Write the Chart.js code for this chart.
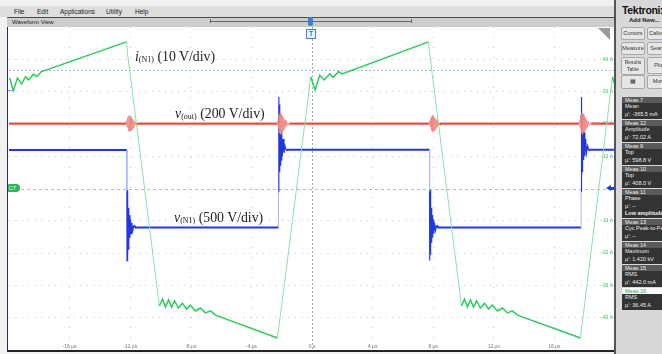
<!DOCTYPE html>
<html>
<head>
<meta charset="utf-8">
<script src="https://cdn.jsdelivr.net/npm/chart.js@4.4.1/dist/chart.umd.min.js"></script>
<style>
  body { margin:0; width:662px; height:354px; overflow:hidden; background:#f2f2f2; font-family:'Liberation Sans', Arial, sans-serif; position:relative; }
  .abs { position:absolute; }
  .menu { left:0; top:6px; width:615px; height:11px; background:#dedede; font-size:6.5px; color:#222; }
  .menu span { position:absolute; top:2px; }
  .wvbar { left:7px; top:17px; width:607px; height:9px; background:#cdcdcd; border-top:1px solid #4a4a4a; font-size:6px; color:#222; }
  .ruler { left:210px; top:19px; width:200px; height:4px; border-left:1px solid #666; border-right:1px solid #666; }
  .ruler i { position:absolute; left:0; right:0; top:2px; height:1px; background:#666; }
  .plot { left:7px; top:27px; width:607px; height:323px; background:#fff; border-left:1px solid #2a2a60; border-bottom:2px solid #222; }
  #scope { position:absolute; left:1px; top:0; }
  .panel { left:614px; top:0; width:48px; height:354px; background:#d8d8d8; border-left:2px solid #555; overflow:hidden; }
  .logo { left:6px; top:4px; font-size:10.5px; font-weight:bold; color:#111; letter-spacing:-0.3px; white-space:nowrap; }
  .addnew { left:13px; top:17px; font-size:6px; font-weight:bold; color:#222; white-space:nowrap; }
  .btn { background:#e6e6e6; border:1px solid #a8a8a8; border-radius:2px; font-size:5.5px; color:#333; text-align:center; line-height:10px; white-space:nowrap; overflow:hidden; }
  .meas { left:6px; width:45px; background:#333; color:#eee; font-size:5.5px; line-height:7.5px; white-space:nowrap; }
  .meas .h { background:#5a5a5a; color:#eee; padding-left:3px; height:6px; line-height:6px; }
  .meas .b { padding-left:3px; }
  .ann { font-family:'Liberation Serif', 'DejaVu Serif', serif; font-size:13.8px; color:#222; white-space:nowrap; }
  .ann sub { font-size:8px; vertical-align:-1px; }
</style>
</head>
<body>
<div class="abs menu">
  <span style="left:14px">File</span><span style="left:37px">Edit</span><span style="left:60px">Applications</span><span style="left:106px">Utility</span><span style="left:135px">Help</span>
</div>
<div class="abs wvbar"><span style="position:absolute;left:5px;top:1px">Waveform View</span></div>
<div class="abs ruler"><i></i></div>
<div class="abs" style="left:308px;top:17px;width:5px;height:9px;background:#3a7fd8;border-radius:2px;"></div>

<div class="abs plot">
  <canvas id="scope" width="606" height="323"></canvas>
</div>

<div class="abs" style="left:306px;top:29px;width:8px;height:8px;border:1px solid #3a7fd8;background:#eef5ff;color:#2a6fd0;font-size:6.5px;font-weight:bold;text-align:center;line-height:8px;">T</div>
<div class="abs" style="left:598px;top:28px;width:0;height:0;border-left:12px solid transparent;border-top:12px solid #9a9a9a;"></div>
<div class="abs" style="left:8px;top:184px;width:11px;height:8px;background:#2fb55a;border-radius:1px 4px 4px 1px;color:#fff;font-size:5.5px;line-height:8px;padding-left:1px;">C7</div>
<div class="abs" style="left:8px;top:90px;width:7px;height:1px;background:#7fa8e8;"></div>
<div class="abs" style="left:606px;top:185px;width:0;height:0;border-top:3.5px solid transparent;border-bottom:3.5px solid transparent;border-right:5px solid #1a3ee0;"></div>
<div class="abs" style="left:610px;top:187px;width:4px;height:3px;background:#1a3ee0;"></div>

<div class="abs ann" style="left:135px;top:49px;"><i>i</i><sub>(N1)</sub> (10 V/div)</div>
<div class="abs ann" style="left:175px;top:106px;"><i>v</i><sub>(out)</sub> (200 V/div)</div>
<div class="abs ann" style="left:174px;top:210px;"><i>v</i><sub>(N1)</sub> (500 V/div)</div>

<div class="abs panel">
  <div class="abs logo">Tektronix</div>
  <div class="abs addnew">Add New...</div>
  <div class="abs btn" style="left:5px;top:27px;width:22px;height:11px;">Cursors</div>
  <div class="abs btn" style="left:31px;top:27px;width:22px;height:11px;">Callouts</div>
  <div class="abs btn" style="left:5px;top:42px;width:22px;height:11px;">Measure</div>
  <div class="abs btn" style="left:31px;top:42px;width:22px;height:11px;">Search</div>
  <div class="abs btn" style="left:5px;top:57px;width:22px;height:15px;line-height:6.5px;padding-top:1px;font-size:5px;">Results<br>Table</div>
  <div class="abs btn" style="left:31px;top:57px;width:22px;height:15px;line-height:15px;">Plot</div>
  <div class="abs btn" style="left:5px;top:75px;width:22px;height:12px;">&#9638;</div>
  <div class="abs btn" style="left:31px;top:75px;width:22px;height:12px;">More</div>

  <div class="abs meas" style="top:97px;height:22px;"><div class="h">Meas 7</div><div class="b">Mean<br>&micro;': -365.5 mA</div></div>
  <div class="abs meas" style="top:120px;height:22px;"><div class="h">Meas 12</div><div class="b">Amplitude<br>&micro;': 72.02 A</div></div>
  <div class="abs meas" style="top:143px;height:22px;"><div class="h">Meas 9</div><div class="b">Top<br>&micro;': 598.8 V</div></div>
  <div class="abs meas" style="top:166px;height:22px;"><div class="h">Meas 10</div><div class="b">Top<br>&micro;': 408.0 V</div></div>
  <div class="abs meas" style="top:189px;height:29px;"><div class="h">Meas 11</div><div class="b">Phase<br>&micro;': --<br><b>Low amplitude</b></div></div>
  <div class="abs meas" style="top:219px;height:22px;"><div class="h">Meas 13</div><div class="b">Cyc Peak-to-Peak<br>&micro;': --</div></div>
  <div class="abs meas" style="top:242px;height:22px;"><div class="h">Meas 14</div><div class="b">Maximum<br>&micro;': 1.420 kV</div></div>
  <div class="abs meas" style="top:265px;height:22px;"><div class="h">Meas 15</div><div class="b">RMS<br>&micro;': 442.0 mA</div></div>
  <div class="abs meas" style="top:288px;height:22px;"><div class="h" style="background:#fafafa;color:#3a9a5a;">Meas 16</div><div class="b">RMS<br>&micro;': 36.45 A</div></div>
</div>

<script>
// screen units: 10 A per vertical division, 4 us per horizontal division
const timeTicks = [-16, -12, -8, -4, 0, 4, 8, 12, 16];
const timeLabels = ['-16 \u00b5s', '-12 \u00b5s', '-8 \u00b5s', '-4 \u00b5s', '0 s', '4 \u00b5s', '8 \u00b5s', '12 \u00b5s', '16 \u00b5s'];
const ampTicks = [40, 30, 20, 10, -10, -20, -30, -40];
const ampLabels = ['40 A', '30 A', '20 A', '10 A', '-10 A', '-20 A', '-30 A', '-40 A'];
const triggerLevel = 36.7;

// i(N1) trace
const iTime = [-19.95, -19.72, -19.44, -19.17, -18.91, -18.71, -18.38, -18.18, -17.85, -12.24, -12.18,
  -10.07, -9.87, -9.67, -9.47, -9.27, -9.08, -8.81, -8.55, -8.28, -8.02, -7.69, -7.36, -7.03, -6.70, -6.37, -2.28,
  -0.08, 0.21, 0.51, 0.81, 1.17, 1.40, 1.77, 1.99, 7.69, 7.76,
  9.87, 10.07, 10.26, 10.46, 10.66, 10.86, 11.12, 11.39, 11.65, 11.91, 12.24, 12.57, 12.90, 13.23, 13.56, 17.72,
  19.83, 19.97];
const iAmp = [34.2, 30.3, 34.2, 32.4, 34.6, 33.6, 35.4, 34.6, 36.2, 45.4, 41.9,
  -36.4, -34.2, -36.7, -34.5, -36.7, -34.8, -37.0, -35.5, -37.3, -36.1, -37.9, -37.0, -38.5, -37.9, -39.2, -46.3,
  34.6, 30.5, 35.1, 33.6, 35.5, 34.4, 36.2, 35.5, 45.4, 41.9,
  -36.4, -34.2, -36.7, -34.5, -36.7, -34.8, -37.0, -35.5, -37.3, -36.1, -37.9, -37.0, -38.5, -37.9, -39.2, -46.3,
  34.5, 32.4];

// v(out) trace
const outTime = [-20.0,
  -12.28, -12.24, -12.20, -12.16, -12.12, -12.08, -12.04, -12.00, -11.96, -11.92, -11.88, -11.84, -11.80, -11.76, -11.72, -11.66, -11.60, -11.52,
  -2.30, -2.26, -2.22, -2.18, -2.14, -2.10, -2.06, -2.02, -1.98, -1.94, -1.90, -1.86, -1.82, -1.78, -1.74, -1.68, -1.60, -1.50,
  7.74, 7.78, 7.82, 7.86, 7.90, 7.94, 7.98, 8.02, 8.06, 8.10, 8.14, 8.18, 8.22, 8.26, 8.30, 8.36, 8.42, 8.50,
  17.62, 17.66, 17.70, 17.74, 17.78, 17.82, 17.86, 17.90, 17.94, 17.98, 18.02, 18.06, 18.10, 18.14, 18.18, 18.24, 18.32, 18.42,
  20.0];
const outAmp = [20.1,
  20.1, 21.0, 19.0, 22.0, 18.0, 22.6, 17.6, 22.4, 17.8, 22.0, 18.3, 21.5, 18.8, 21.0, 19.3, 20.6, 19.7, 20.1,
  20.1, 21.0, 18.8, 22.8, 17.2, 23.4, 16.8, 23.0, 17.4, 22.4, 18.0, 21.8, 18.6, 21.2, 19.0, 20.8, 19.5, 20.1,
  20.1, 21.0, 19.0, 22.0, 18.0, 22.6, 17.6, 22.4, 17.8, 22.0, 18.3, 21.5, 18.8, 21.0, 19.3, 20.6, 19.7, 20.1,
  20.1, 21.0, 18.8, 22.8, 17.2, 23.4, 16.8, 23.0, 17.4, 22.4, 18.0, 21.8, 18.6, 21.2, 19.0, 20.8, 19.5, 20.1,
  20.1];

// v(N1) trace
const nTime = [-20.0, -12.22, -12.22, -12.21, -12.19, -12.17, -12.15, -12.13, -12.11, -12.08, -12.05, -12.02, -11.98, -11.94, -11.89, -11.83, -11.75, -11.65,
  -2.21, -2.21, -2.20, -2.18, -2.16, -2.14, -2.12, -2.10, -2.07, -2.04, -2.00, -1.96, -1.91, -1.85, -1.78, -1.70, -1.60,
  7.76, 7.76, 7.77, 7.79, 7.81, 7.83, 7.85, 7.87, 7.90, 7.93, 7.96, 8.00, 8.04, 8.09, 8.15, 8.23, 8.33,
  17.76, 17.76, 17.77, 17.79, 17.81, 17.83, 17.85, 17.87, 17.90, 17.93, 17.97, 18.01, 18.06, 18.12, 18.19, 18.27, 18.37, 20.0];
const nAmp = [11.9, 11.9, -1.0, -22.3, -0.5, -20.5, -3.5, -18.8, -6.0, -16.8, -8.2, -15.2, -9.6, -14.0, -10.6, -13.0, -11.4, -12.1,
  -12.1, -1.0, 28.3, 3.0, 26.0, 5.2, 23.2, 7.2, 20.2, 8.8, 17.4, 10.0, 15.3, 11.0, 13.2, 11.8, 12.0,
  12.0, -1.0, -22.3, -0.5, -20.5, -3.5, -18.8, -6.0, -16.8, -8.2, -15.2, -9.6, -14.0, -10.6, -13.0, -11.4, -12.1,
  -12.1, -1.0, 28.3, 3.0, 26.0, 5.2, 23.2, 7.2, 20.2, 8.8, 17.4, 10.0, 15.3, 11.0, 13.2, 11.8, 12.0, 12.0];

const pts = (xs, ys) => xs.map((x, i) => ({x: x, y: ys[i]}));
const slope = c => Math.abs(c.p1.parsed.y - c.p0.parsed.y) / Math.max(1e-6, Math.abs(c.p1.parsed.x - c.p0.parsed.x));

// grid extras + tick labels drawn inside the screen like on the scope
const scopeMarks = {
  id: 'scopeMarks',
  beforeDatasetsDraw(chart) {
    const {ctx, chartArea: a, scales: {x, y}} = chart;
    ctx.save();
    ctx.lineWidth = 1;
    ctx.setLineDash([3, 3]);
    ctx.strokeStyle = '#b8b8b8';
    ctx.beginPath();
    ctx.moveTo(a.left, Math.round(y.getPixelForValue(0)) + 0.5);
    ctx.lineTo(a.right, Math.round(y.getPixelForValue(0)) + 0.5);
    ctx.stroke();
    ctx.setLineDash([2, 2]);
    ctx.strokeStyle = '#a8a8a8';
    ctx.beginPath();
    ctx.moveTo(Math.round(x.getPixelForValue(0)) + 0.5, a.top);
    ctx.lineTo(Math.round(x.getPixelForValue(0)) + 0.5, a.bottom);
    ctx.stroke();
    ctx.setLineDash([2, 2]);
    ctx.strokeStyle = '#8ec0f2';
    ctx.beginPath();
    ctx.moveTo(a.left, Math.round(y.getPixelForValue(triggerLevel)) + 0.5);
    ctx.lineTo(a.right, Math.round(y.getPixelForValue(triggerLevel)) + 0.5);
    ctx.stroke();
    ctx.setLineDash([]);

    ctx.font = '5px "Liberation Sans", Arial, sans-serif';
    ctx.fillStyle = '#777';
    ctx.textAlign = 'center';
    ctx.textBaseline = 'bottom';
    timeTicks.forEach((t, i) => ctx.fillText(timeLabels[i], x.getPixelForValue(t), a.bottom - 1));
    ctx.fillStyle = '#45c070';
    ctx.textAlign = 'right';
    ctx.textBaseline = 'middle';
    ampTicks.forEach((v, i) => ctx.fillText(ampLabels[i], a.right - 2, y.getPixelForValue(v)));
    ctx.restore();
  }
};

new Chart(document.getElementById('scope'), {
  type: 'line',
  data: {
    datasets: [
      {
        label: 'i(N1)', data: pts(iTime, iAmp), pointRadius: 0, tension: 0,
        borderColor: '#2ccb5c', borderWidth: 1.5,
        segment: {
          borderColor: c => slope(c) > 20 ? '#86e2a4' : '#2ccb5c',
          borderWidth: c => slope(c) > 20 ? 1 : 1.5
        }
      },
      {
        label: 'v(out)', data: pts(outTime, outAmp), pointRadius: 0, tension: 0,
        borderColor: '#e4504a', borderWidth: 2.3,
        segment: {
          borderColor: c => Math.abs(c.p1.parsed.y - c.p0.parsed.y) > 0.5 ? '#f08a84' : '#e4504a',
          borderWidth: c => Math.abs(c.p1.parsed.y - c.p0.parsed.y) > 0.5 ? 1 : 2.3
        }
      },
      {
        label: 'v(N1)', data: pts(nTime, nAmp), pointRadius: 0, tension: 0,
        borderColor: '#2236e2', borderWidth: 2,
        segment: {
          borderColor: c => c.p1.parsed.x === c.p0.parsed.x ? '#aab4f6' : '#2236e2',
          borderWidth: c => (c.p1.parsed.x === c.p0.parsed.x) ? 1 : (Math.abs(c.p1.parsed.y - c.p0.parsed.y) > 1 ? 1.2 : 2)
        }
      }
    ]
  },
  options: {
    responsive: false,
    animation: false,
    layout: {padding: 0},
    plugins: {legend: {display: false}, tooltip: {enabled: false}},
    scales: {
      x: {
        type: 'linear', min: -20, max: 20,
        ticks: {display: false, stepSize: 4},
        grid: {drawTicks: false, color: c => Math.abs(c.tick.value) === 20 || c.tick.value === 0 ? 'rgba(0,0,0,0)' : '#c4c4c4'},
        border: {display: false, dash: [1, 9]}
      },
      y: {
        min: -50, max: 50,
        ticks: {display: false, stepSize: 10},
        grid: {drawTicks: false, color: c => Math.abs(c.tick.value) === 50 || c.tick.value === 0 ? 'rgba(0,0,0,0)' : '#c4c4c4'},
        border: {display: false, dash: [1, 5.5]}
      }
    }
  },
  plugins: [scopeMarks]
});
</script>
</body>
</html>
